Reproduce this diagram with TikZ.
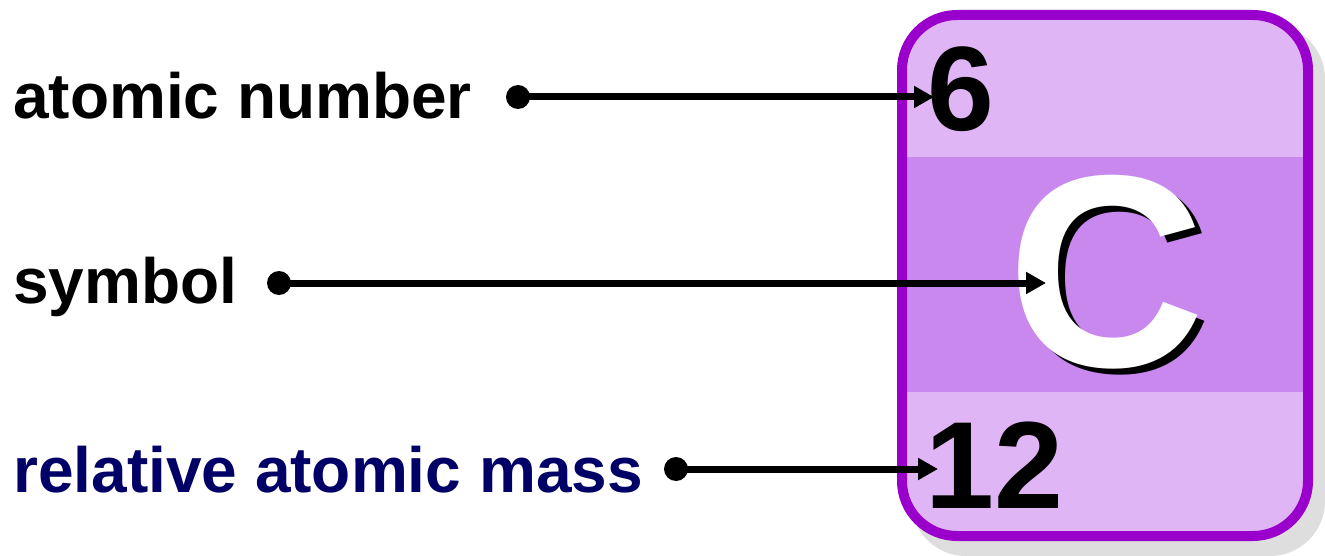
\documentclass[tikz,border=0pt]{standalone}
\usepackage{fontspec}
\setmainfont{Liberation Sans}
\usetikzlibrary{arrows.meta}
\definecolor{cardborder}{HTML}{9A00CC}
\definecolor{cardlight}{HTML}{E0B5F6}
\definecolor{cardmid}{HTML}{C888EE}
\definecolor{cardshadow}{HTML}{DEDEDE}
\definecolor{navytext}{HTML}{000066}
\tikzset{
  label/.style={anchor=base west, inner sep=0pt, font=\fontsize{64}{64}\selectfont\bfseries},
  bignum/.style={anchor=base west, inner sep=0pt, font=\fontsize{#1}{#1}\selectfont\bfseries},
  dotnode/.style={circle, fill=black, inner sep=0pt, minimum size=24pt},
  pointer/.style={line width=7pt, -{Triangle[length=20pt,width=21pt]}},
}
\begin{document}
\begin{tikzpicture}[x=1pt, y=-1pt]
\useasboundingbox (0,0) rectangle (1325,556);
% card shadow
\fill[cardshadow, rounded corners=55] (911,24) rectangle (1325,556);
% card
\fill[cardlight, rounded corners=55] (902,15) rectangle (1308,536);
\fill[cardmid] (906,157) rectangle (1304,392);
\draw[cardborder, line width=10pt, rounded corners=55] (902,15) rectangle (1308,536);
% texts in card
\node[bignum=120] (num) at (927,131) {6};
\node[bignum=124] (mass) at (925,508) {12};
\node[anchor=base west, inner sep=0pt, font=\fontsize{274}{274}\selectfont\bfseries] (sym) at (1007,366)
  {\makebox[0pt][l]{\hspace{7pt}\raisebox{-6pt}{\color{black}C}}\color{white}C};
% labels
\node[label] (l1) at (13,119) {atomic number};
\node[label] (l2) at (13,303) {symbol};
\node[label, text=navytext] (l3) at (13,492) {relative atomic mass};
% dots and targets
\node[dotnode] (d1) at (518,97) {};
\node[dotnode] (d2) at (279,283) {};
\node[dotnode] (d3) at (676,469) {};
\coordinate (t1) at (934,97);
\coordinate (t2) at (1046,283);
\coordinate (t3) at (938,469);
\draw[pointer] (d1.center) -- (t1);
\draw[pointer] (d2.center) -- (t2);
\draw[pointer] (d3.center) -- (t3);
\end{tikzpicture}
\end{document}
